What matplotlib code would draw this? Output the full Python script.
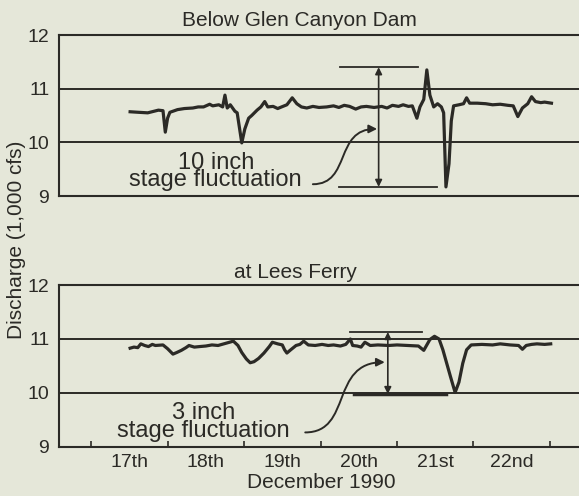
import numpy as np
import matplotlib
matplotlib.use("Agg")
import matplotlib.pyplot as plt
from matplotlib.path import Path
from matplotlib.patches import FancyArrowPatch

plt.rcParams["font.family"] = ["Liberation Sans", "DejaVu Sans"]

bg = "#e5e7d9"
ink = "#2b2a26"

# discharge below the dam (day of December 1990, 1,000 cfs)
dam_days = [17.51, 17.62, 17.74, 17.88, 17.94, 17.97, 18.00, 18.03, 18.13, 18.22,
            18.33, 18.40, 18.47, 18.55, 18.59, 18.67, 18.72, 18.75, 18.78, 18.82,
            18.88, 18.91, 18.97, 19.01, 19.06, 19.10, 19.17, 19.22, 19.27, 19.31,
            19.38, 19.44, 19.49, 19.56, 19.63, 19.69, 19.75, 19.82, 19.90, 19.98,
            20.08, 20.17, 20.24, 20.31, 20.38, 20.46, 20.53, 20.60, 20.70, 20.80,
            20.87, 20.94, 21.02, 21.08, 21.15, 21.20, 21.26, 21.30, 21.35, 21.39,
            21.43, 21.48, 21.53, 21.58, 21.61, 21.64, 21.68, 21.71, 21.74, 21.81,
            21.87, 21.91, 21.95, 22.05, 22.16, 22.25, 22.35, 22.45, 22.52, 22.58,
            22.64, 22.71, 22.76, 22.81, 22.88, 22.93, 23.02]
dam_flow = [10.57, 10.56, 10.55, 10.60, 10.59, 10.19, 10.45, 10.56, 10.61, 10.63,
            10.64, 10.66, 10.66, 10.71, 10.68, 10.70, 10.66, 10.88, 10.64, 10.70,
            10.58, 10.55, 9.99, 10.25, 10.45, 10.50, 10.60, 10.66, 10.76, 10.66,
            10.67, 10.63, 10.66, 10.70, 10.83, 10.72, 10.66, 10.64, 10.67, 10.65,
            10.66, 10.68, 10.65, 10.69, 10.67, 10.62, 10.66, 10.67, 10.65, 10.67,
            10.64, 10.69, 10.67, 10.70, 10.67, 10.68, 10.45, 10.66, 10.80, 11.35,
            10.88, 10.66, 10.72, 10.66, 10.55, 9.17, 9.60, 10.40, 10.68, 10.70,
            10.72, 10.83, 10.73, 10.73, 10.72, 10.70, 10.71, 10.69, 10.68, 10.48,
            10.64, 10.72, 10.85, 10.76, 10.74, 10.75, 10.73]

# discharge at Lees Ferry
lees_days = [17.51, 17.56, 17.61, 17.65, 17.70, 17.75, 17.80, 17.84, 17.94, 18.00,
             18.07, 18.12, 18.18, 18.24, 18.28, 18.35, 18.42, 18.50, 18.58, 18.66,
             18.76, 18.86, 18.92, 18.97, 19.03, 19.08, 19.13, 19.19, 19.26, 19.33,
             19.37, 19.44, 19.50, 19.53, 19.56, 19.61, 19.68, 19.73, 19.78, 19.84,
             19.93, 20.02, 20.10, 20.17, 20.26, 20.33, 20.39, 20.42, 20.48, 20.53,
             20.58, 20.65, 20.75, 20.89, 21.00, 21.14, 21.28, 21.35, 21.43, 21.49,
             21.55, 21.60, 21.65, 21.70, 21.76, 21.81, 21.86, 21.91, 21.97, 22.11,
             22.25, 22.35, 22.48, 22.59, 22.64, 22.69, 22.76, 22.83, 22.93, 23.01]
lees_flow = [10.83, 10.85, 10.84, 10.91, 10.88, 10.86, 10.90, 10.88, 10.89, 10.82,
             10.72, 10.75, 10.79, 10.84, 10.88, 10.85, 10.86, 10.87, 10.89, 10.88,
             10.92, 10.96, 10.88, 10.75, 10.63, 10.56, 10.58, 10.64, 10.74, 10.86,
             10.94, 10.91, 10.89, 10.80, 10.74, 10.80, 10.88, 10.90, 10.96, 10.89,
             10.88, 10.90, 10.88, 10.89, 10.87, 10.90, 11.00, 10.88, 10.87, 10.85,
             10.94, 10.88, 10.89, 10.88, 10.89, 10.88, 10.87, 10.79, 10.99, 11.05,
             11.00, 10.80, 10.55, 10.30, 10.01, 10.20, 10.55, 10.80, 10.89, 10.90,
             10.89, 10.91, 10.89, 10.88, 10.81, 10.88, 10.90, 10.91, 10.90, 10.91]

day_labels = ["17th", "18th", "19th", "20th", "21st", "22nd"]
day_starts = [17, 18, 19, 20, 21, 22, 23]

fig = plt.figure(figsize=(5.79, 4.96), dpi=100, facecolor=bg)
ax1 = fig.add_axes([0.1019, 0.6048, 0.8981, 0.3246])
ax2 = fig.add_axes([0.1019, 0.0988, 0.8981, 0.3266])


def style(ax):
    ax.set_facecolor(bg)
    ax.set_xlim(16.58, 23.38)
    ax.set_ylim(9, 12)
    for s in ["left", "top", "bottom"]:
        ax.spines[s].set_color(ink)
        ax.spines[s].set_linewidth(1.5)
    ax.spines["right"].set_visible(False)
    ax.set_yticks([9, 10, 11, 12])
    ax.tick_params(axis="y", length=0, pad=7, labelsize=14, colors=ink)
    for v in [10, 11]:
        ax.axhline(v, color=ink, lw=1.4, zorder=1)


style(ax1)
style(ax2)

ax1.plot(dam_days, dam_flow, color=ink, lw=2.3, zorder=3)
ax2.plot(lees_days, lees_flow, color=ink, lw=2.3, zorder=3)

ax1.set_xticks([])
ax2.set_xticks(day_starts)
ax2.set_xticklabels([])
ax2.tick_params(axis="x", which="major", direction="in", length=4, width=1.2, colors=ink)
ax2.set_xticks([d + 0.5 for d in day_starts[:-1]], minor=True)
ax2.set_xticklabels(day_labels, minor=True)
ax2.tick_params(axis="x", which="minor", length=0, pad=5, labelsize=14, labelcolor=ink)


def fluctuation(ax, top, bottom, x_arrow, top_span, bot_span, bot_lw,
                label, text_x, text_y, curve):
    ax.plot(top_span, [top, top], color=ink, lw=1.3)
    ax.plot(bot_span, [bottom, bottom], color=ink, lw=bot_lw)
    ax.annotate("", xy=(x_arrow, top), xytext=(x_arrow, bottom),
                arrowprops=dict(arrowstyle="<|-|>", color=ink, lw=1.2,
                                mutation_scale=10, shrinkA=0, shrinkB=0))
    ax.text(text_x, text_y, label, ha="center", va="baseline", ma="center",
            fontsize=17, color=ink, linespacing=0.72)
    p = Path(curve, [Path.MOVETO, Path.CURVE4, Path.CURVE4, Path.CURVE4])
    arr = FancyArrowPatch(path=p, arrowstyle="-|>", color=ink, lw=1.4,
                          mutation_scale=12)
    ax.add_patch(arr)


fluctuation(ax1, 11.40, 9.17, 20.76, [20.25, 21.27], [20.24, 21.52], 1.3,
            "10 inch\nstage fluctuation", 18.63, 9.19,
            [(19.90, 9.22), (20.40, 9.22), (20.18, 10.25), (20.74, 10.25)])
fluctuation(ax2, 11.13, 9.98, 20.88, [20.39, 21.33], [20.44, 21.64], 2.5,
            "3 inch\nstage fluctuation", 18.47, 9.19,
            [(19.80, 9.27), (20.42, 9.27), (20.12, 10.57), (20.84, 10.57)])

fig.text(299 / 579, 1 - 20 / 496, "Below Glen Canyon Dam", ha="center", va="center",
         fontsize=15, color=ink)
fig.text(295 / 579, 1 - 272 / 496, "at Lees Ferry", ha="center", va="center",
         fontsize=15, color=ink)
fig.text(17 / 579, 1 - 240 / 496, "Discharge (1,000 cfs)", rotation=90,
         ha="center", va="center", fontsize=15, color=ink)
fig.text(321 / 579, 1 - 482 / 496, "December 1990", ha="center", va="center",
         fontsize=15, color=ink)

fig.savefig("out.png", dpi=100, facecolor=bg)
